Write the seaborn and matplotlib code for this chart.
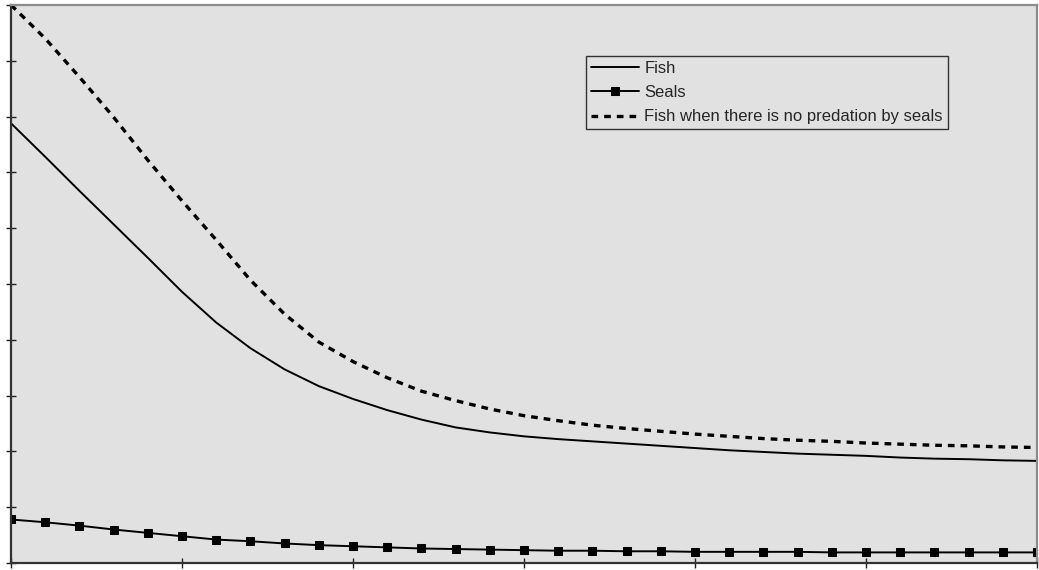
import matplotlib
matplotlib.use('Agg')
import numpy as np
import pandas as pd
import matplotlib.pyplot as plt
import seaborn as sns

# time steps (no labels on the axes in the original)
years = list(range(31))

fish = [7.88, 7.28, 6.67, 6.07, 5.47, 4.86, 4.31, 3.85, 3.47, 3.17, 2.94,
        2.74, 2.57, 2.43, 2.34, 2.27, 2.22, 2.18, 2.14, 2.10, 2.06,
        2.02, 1.99, 1.96, 1.94, 1.92, 1.89, 1.87, 1.86, 1.84, 1.83]

seals = [0.78, 0.73, 0.67, 0.60, 0.54, 0.48, 0.42, 0.39, 0.35, 0.32, 0.30,
         0.28, 0.26, 0.25, 0.24, 0.23, 0.22, 0.22, 0.21, 0.21, 0.20,
         0.20, 0.20, 0.20, 0.19, 0.19, 0.19, 0.19, 0.19, 0.19, 0.19]

fish_no_seals = [10.0, 9.40, 8.71, 7.99, 7.22, 6.49, 5.79, 5.07, 4.46, 3.96, 3.61,
                 3.32, 3.08, 2.91, 2.76, 2.64, 2.55, 2.47, 2.41, 2.36, 2.31,
                 2.27, 2.23, 2.20, 2.18, 2.15, 2.13, 2.11, 2.10, 2.08, 2.07]

labels = ['Fish', 'Seals', 'Fish when there is no predation by seals']

sns.set_style('white', rc={'axes.facecolor': '#E1E1E1'})
plt.rcParams['font.family'] = ['Liberation Sans', 'DejaVu Sans']

fig = plt.figure(figsize=(10.39, 5.70), dpi=100)
ax = fig.add_axes([11 / 1039, 7 / 570, 1026 / 1039, 558 / 570])

sns.lineplot(x=years, y=fish, ax=ax, color='black', lw=1.4, label=labels[0])
sns.lineplot(x=years, y=seals, ax=ax, color='black', lw=1.4, marker='s',
             markersize=5.5, markeredgecolor='black', label=labels[1])
sns.lineplot(x=years, y=fish_no_seals, ax=ax, color='black', lw=2.4,
             ls=(0, (2.0, 1.8)), label=labels[2])

ax.set_xlim(0, 30)
ax.set_ylim(0, 10)
ax.set_xticks(range(0, 31, 5))
ax.set_yticks(range(0, 11))
ax.tick_params(direction='inout', length=7, width=1, colors='#222222',
               labelleft=False, labelbottom=False, left=True, bottom=True)
ax.set_xlabel('')
ax.set_ylabel('')

for s in ['left', 'bottom']:
    ax.spines[s].set_color('#333333')
    ax.spines[s].set_linewidth(1.6)
for s in ['top', 'right']:
    ax.spines[s].set_color('#8c8c8c')
    ax.spines[s].set_linewidth(1.6)

ax.legend(loc='upper left', bbox_to_anchor=(0.5604, 0.9086), borderaxespad=0,
          fancybox=False, edgecolor='#333333', facecolor='#E1E1E1', framealpha=1,
          fontsize=12, handlelength=2.9, handletextpad=0.3, labelspacing=0.55,
          borderpad=0.3)

fig.savefig('out.png', dpi=100)
